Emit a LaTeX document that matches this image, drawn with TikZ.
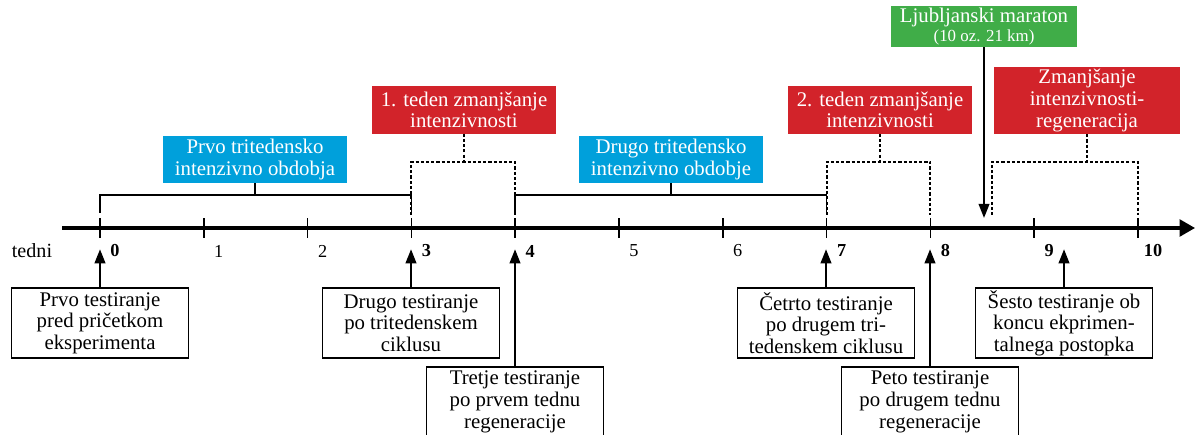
\documentclass[tikz,border=0pt]{standalone}
\usepackage{fontspec}
\setmainfont{Liberation Serif}
\usetikzlibrary{arrows.meta}
\definecolor{myblue}{RGB}{0,160,219}
\definecolor{myred}{RGB}{210,35,42}
\definecolor{mygreen}{RGB}{64,173,72}

\begin{document}
\begin{tikzpicture}[x=0.025cm,y=-0.025cm,
  period/.style={fill=myblue,text=white,minimum width=4.6cm,minimum height=1.175cm,
    inner sep=0pt,align=center,font=\fontsize{14.8}{15.4}\selectfont},
  taper/.style={period,fill=myred,minimum width=4.6cm},
  testbox/.style={draw,line width=1.1pt,fill=white,minimum width=4.425cm,minimum height=1.75cm,
    inner sep=0pt,align=center,font=\fontsize{14.8}{15.4}\selectfont},
  bracket/.style={line width=1.2pt},
  dotbracket/.style={line width=1.4pt,dash pattern=on 2.2pt off 1.5pt},
  uparrow/.style={line width=1.5pt,-{Triangle[length=10pt,width=7.5pt]}}]
  \useasboundingbox (0,0) rectangle (1196,434);

  \coordinate (axstart) at (62,228);
  \coordinate (axend) at (1195,228);
  \draw[line width=2.2pt,-{Triangle[length=11pt,width=12pt]}] (axstart) -- (axend);
    \foreach \w/\lab in {0/\textbf{0},1/1,2/2,3/\textbf{3},4/\textbf{4},5/5,6/6,
                          7/\textbf{7},8/\textbf{8},9/\textbf{9},10/\textbf{10}} {
      \coordinate (w\w) at ({100+103.8*\w},228);
      \draw[line width=1.2pt] ({100+103.8*\w},218) -- ({100+103.8*\w},238);
      \node[font=\fontsize{13}{14}\selectfont] (lab\w) at ({115+103.8*\w},251) {\lab};}
  \node[font=\fontsize{14.3}{15}\selectfont] (tedni) at (32,251) {tedni};
  \coordinate (w86) at (992,228);

  \node[period] (prvo) at (255,159.5) {Prvo tritedensko\\intenzivno obdobja};
  \draw[bracket] ([yshift=0.375cm]w0) |- ([yshift=0.825cm]w3) -- ([yshift=0.375cm]w3);
  \draw[bracket] (prvo.south) -- ++(0,12);
  \node[period] (drugo) at (671,159.5) {Drugo tritedensko\\intenzivno obdobje};
  \draw[bracket] ([yshift=0.375cm]w4) |- ([yshift=0.825cm]w7) -- ([yshift=0.375cm]w7);
  \draw[bracket] (drugo.south) -- ++(0,12);

  \node[taper] (taper1) at (464,110) {1. teden zmanjšanje\\intenzivnosti};
  \draw[dotbracket] ([yshift=0.325cm]w3) |- ([yshift=1.65cm]w4) -- ([yshift=0.325cm]w4);
  \draw[dotbracket] (taper1.south) -- ++(0,29);
  \node[taper] (taper2) at (880,110) {2. teden zmanjšanje\\intenzivnosti};
  \draw[dotbracket] ([yshift=0.325cm]w7) |- ([yshift=1.65cm]w8) -- ([yshift=0.325cm]w8);
  \draw[dotbracket] (taper2.south) -- ++(0,29);
  \node[taper,minimum width=4.65cm,minimum height=1.675cm] (taper3) at (1087,100.5)
    {Zmanjšanje\\intenzivnosti-\\regeneracija};
  \draw[dotbracket] ([yshift=0.325cm]w86) |- ([yshift=1.65cm]w10) -- ([yshift=0.325cm]w10);
  \draw[dotbracket] (taper3.south) -- ++(0,28.5);

  \node[period,fill=mygreen,minimum width=4.625cm,minimum height=1.025cm] (race) at (984,26.5)
    {Ljubljanski maraton\\[-2pt]{\fontsize{12}{13}\selectfont (10 oz. 21 km)}};
  \coordinate (racetip) at (984,218);
  \draw[line width=1.5pt,-{Triangle[length=10pt,width=7.5pt]}] (race) -- (racetip);

  \node[testbox] (test1) at (100,323) {Prvo testiranje\\pred pričetkom\\eksperimenta};
  \draw[uparrow] (test1.north) -- ++(0,-38);
  \node[testbox] (test2) at (411,323) {Drugo testiranje\\po tritedenskem\\ciklusu};
  \draw[uparrow] (test2.north) -- ++(0,-38);
  \node[testbox] (test3) at (515,402) {Tretje testiranje\\po prvem tednu\\regeneracije};
  \draw[uparrow] (test3.north) -- ++(0,-117);
  \node[testbox] (test4) at (826,323) {Četrto testiranje\\po drugem tri-\\tedenskem ciklusu};
  \draw[uparrow] (test4.north) -- ++(0,-38);
  \node[testbox] (test5) at (930,402) {Peto testiranje\\po drugem tednu\\regeneracije};
  \draw[uparrow] (test5.north) -- ++(0,-117);
  \node[testbox] (test6) at (1064,323) {Šesto testiranje ob\\koncu ekprimen-\\talnega postopka};
  \draw[uparrow] (test6.north) -- ++(0,-38);
\end{tikzpicture}
\end{document}
